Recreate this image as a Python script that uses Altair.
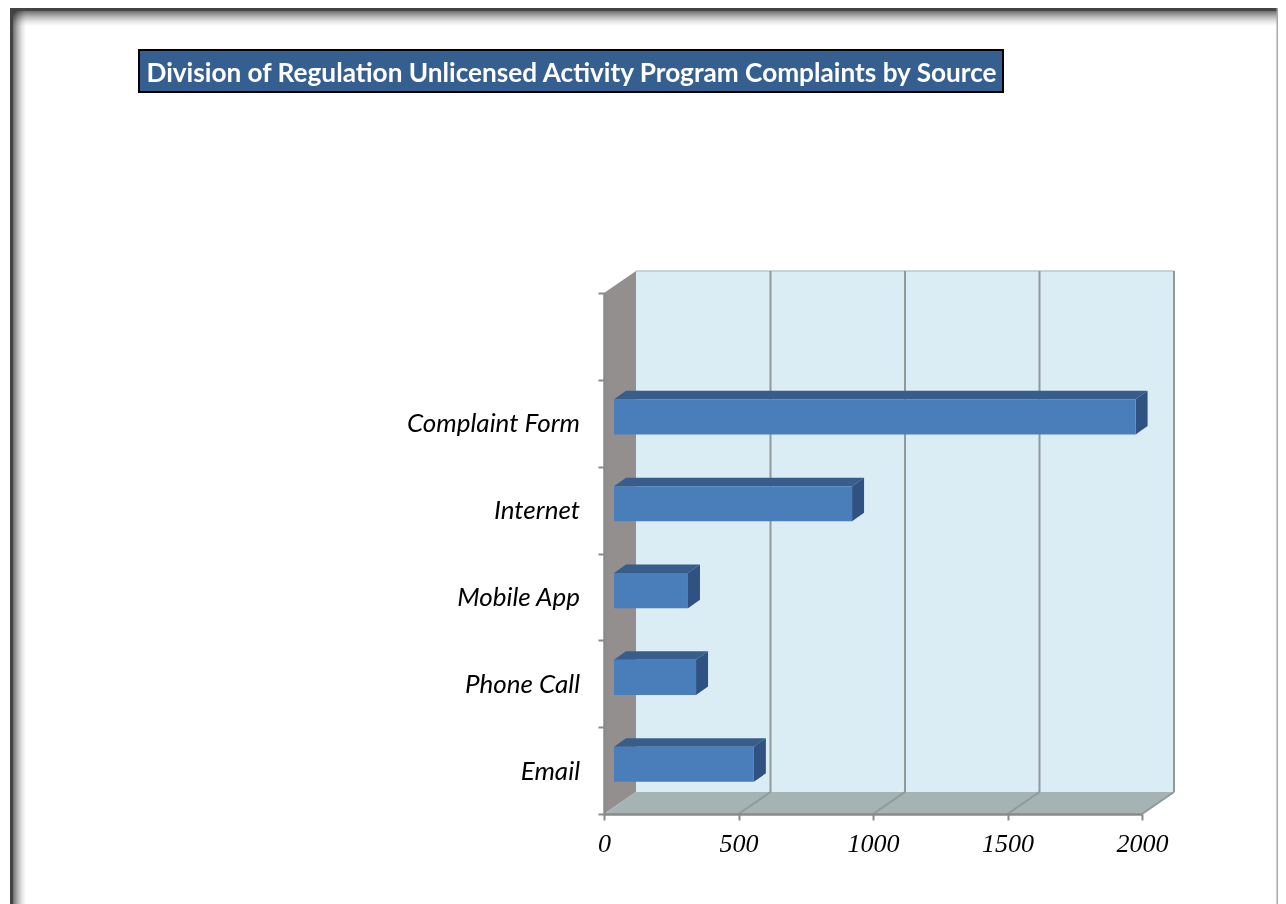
import altair as alt
import pandas as pd

# ---- chart values ----
categories = ["Email", "Phone Call", "Mobile App", "Internet", "Complaint Form"]
values = [520, 305, 275, 885, 1939]
x_ticks = [0, 500, 1000, 1500, 2000]
y_ticks = [0, 1, 2, 3, 4, 5, 6]
title_text = "Division of Regulation Unlicensed Activity Program Complaints by Source"

# ---- layout ----
PW, PH = 538, 521
OX, OY = 604, 293
XU = 2000 / PW          # value units per px
YU = 6 / PH             # row units per px
WALL_DX = 32 * XU
WALL_DY = 22 * YU
BAR_X0 = 10 * XU
BAR_DX = 12 * XU
BAR_DY = 8.5 * YU
BAR_LO, BAR_HI = 0.37, 0.775
XMAX, YMAX = 2000, 6

xs = alt.Scale(domain=[0, XMAX], nice=False, zero=False)
ys = alt.Scale(domain=[0, YMAX], nice=False, zero=False)

x_axis = alt.Axis(
    values=x_ticks, grid=False, tickSize=6, tickWidth=2, tickColor="#8a8a8a", format="d",
    domainColor="#8a8a8a", domainWidth=2.5, labelFont="Liberation Serif", labelFontStyle="italic",
    labelFontSize=26, labelColor="#000000", labelPadding=10, labelFlush=False,
    labelOverlap=False, zindex=1)
y_axis = alt.Axis(
    values=y_ticks, grid=False, tickSize=6, tickWidth=2, tickColor="#8a8a8a",
    domainColor="#8a8a8a", domainWidth=2.5, labels=False, zindex=1)


def X(f="x"):
    return alt.X(f"{f}:Q", scale=xs, title=None, axis=x_axis)


def Y(f="y"):
    return alt.Y(f"{f}:Q", scale=ys, title=None, axis=y_axis)


def px(v):
    return alt.value(v - OX)


def py(v):
    return alt.value(v - OY)


def box(x0, x1, y0, y1, **mark):
    return alt.Chart(pd.DataFrame({"a": [0]})).mark_rect(**mark).encode(
        x=px(x0), x2=px(x1), y=py(y0), y2=py(y1))


def grad(horizontal, stops):
    return alt.LinearGradient(
        gradient="linear",
        x1=0, y1=0,
        x2=1 if horizontal else 0,
        y2=0 if horizontal else 1,
        stops=[alt.GradientStop(offset=o, color=c) for o, c in stops],
    )


shade = [(0, "#707070"), (0.35, "#b2b2b2"), (0.7, "#e6e6e6"), (1, "#ffffff")]

layers = []

# page frame with inner shadow
layers.append(box(13, 26, 11, 904, fill=grad(True, shade), blend="multiply"))
layers.append(box(13, 1286, 11, 26, fill=grad(False, shade), blend="multiply"))
layers.append(box(10, 13, 8, 904, fill="#444444"))
layers.append(box(10, 1286, 8, 11, fill="#444444"))
layers.append(box(1276.5, 1278, 8, 904, fill="#a8a8a8"))

# title banner
layers.append(box(139, 1003, 50, 92, fill="#365f91", stroke="#000000", strokeWidth=2))
layers.append(
    alt.Chart(pd.DataFrame({"t": [title_text]}))
    .mark_text(font="Lato", fontWeight="bold", fontSize=26.2, color="#ffffff", align="center", baseline="middle")
    .encode(text="t:N", x=px(571.5), y=py(74))
)

# back wall
wall = pd.DataFrame({"x": [WALL_DX], "x2": [XMAX + WALL_DX], "y": [WALL_DY], "y2": [YMAX + WALL_DY]})
layers.append(alt.Chart(wall).mark_rect(fill="#daedf5").encode(
    x=X("x"), x2="x2:Q", y=Y("y"), y2="y2:Q"))

# side wall
side = pd.DataFrame({"x": [0, WALL_DX], "y": [0, WALL_DY], "y2": [YMAX, YMAX + WALL_DY]})
layers.append(alt.Chart(side).mark_area(orient="vertical", fill="#948f8f").encode(
    x=X("x"), y=Y("y"), y2="y2:Q"))

# floor
floor = pd.DataFrame({"y": [0, WALL_DY], "x": [0, WALL_DX], "x2": [XMAX, XMAX + WALL_DX]})
layers.append(alt.Chart(floor).mark_area(orient="horizontal", fill="#a5b3b4").encode(
    y=Y("y"), x=X("x"), x2="x2:Q"))

# wall top edge
top_edge = pd.DataFrame({"x": [WALL_DX], "x2": [XMAX + WALL_DX], "y": [YMAX + WALL_DY]})
layers.append(alt.Chart(top_edge).mark_rule(color="#bcc6ca", strokeWidth=1.5).encode(
    x=X("x"), x2="x2:Q", y=Y("y")))

# grid lines on back wall and floor
grid = pd.DataFrame({"x": [t + WALL_DX for t in x_ticks[1:]], "y": WALL_DY, "y2": YMAX + WALL_DY})
layers.append(alt.Chart(grid).mark_rule(color="#8f9a9d", strokeWidth=2).encode(
    x=X("x"), y=Y("y"), y2="y2:Q"))
diag = pd.DataFrame({"x": x_ticks[1:], "x2": [t + WALL_DX for t in x_ticks[1:]], "y": 0.0, "y2": WALL_DY})
layers.append(alt.Chart(diag).mark_rule(color="#8f9a9d", strokeWidth=2).encode(
    x=X("x"), x2="x2:Q", y=Y("y"), y2="y2:Q"))

# 3-D bars
rows = []
for i, (c, v) in enumerate(zip(categories, values)):
    rows.append({"cat": c, "row": i, "x0": BAR_X0, "x1": BAR_X0 + v, "lo": i + BAR_LO, "hi": i + BAR_HI})
bars = pd.DataFrame(rows)

top_rows, side_rows = [], []
for r in rows:
    top_rows += [
        {"cat": r["cat"], "y": r["hi"], "x": r["x0"], "x2": r["x1"]},
        {"cat": r["cat"], "y": r["hi"] + BAR_DY, "x": r["x0"] + BAR_DX, "x2": r["x1"] + BAR_DX},
    ]
    side_rows += [
        {"cat": r["cat"], "x": r["x1"], "y": r["lo"], "y2": r["hi"]},
        {"cat": r["cat"], "x": r["x1"] + BAR_DX, "y": r["lo"] + BAR_DY, "y2": r["hi"] + BAR_DY},
    ]

layers.append(alt.Chart(pd.DataFrame(top_rows)).mark_area(orient="horizontal", fill="#385d8a").encode(
    y=Y("y"), x=X("x"), x2="x2:Q", detail="cat:N"))
layers.append(alt.Chart(pd.DataFrame(side_rows)).mark_area(orient="vertical", fill="#2f5282").encode(
    x=X("x"), y=Y("y"), y2="y2:Q", detail="cat:N"))
layers.append(alt.Chart(bars).mark_rect(fill="#4a7ebb").encode(
    x=X("x0"), x2="x1:Q", y=Y("lo"), y2="hi:Q"))

# category labels
labels = pd.DataFrame({"cat": categories, "y": [i + 0.5 for i in range(len(categories))]})
layers.append(alt.Chart(labels).mark_text(
    font="Lato", fontStyle="italic", fontSize=26, color="#000000", align="right", baseline="middle", dy=1
).encode(text="cat:N", x=px(580), y=Y("y")))

chart = (
    alt.layer(*layers)
    .properties(
        width=PW, height=PH,
        padding={"left": 596, "top": 285, "right": 136, "bottom": 90},
        autosize=alt.AutoSizeParams(type="none"),
        background="#ffffff",
    )
    .configure_view(strokeWidth=0)
)

chart.save("out.html", embed_options={"renderer": "svg", "actions": False})
